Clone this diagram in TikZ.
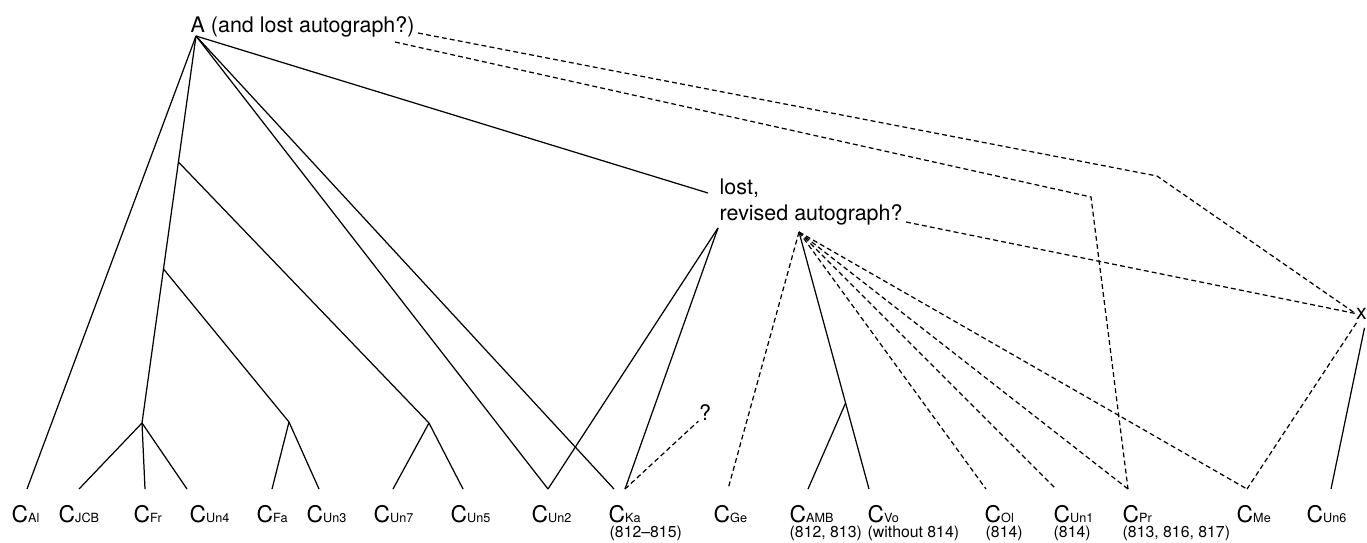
\documentclass[tikz,border=0pt]{standalone}
\usepackage{fontspec}
\setmainfont{TeX Gyre Heros}
\newcommand{\Cw}[1]{C{\fontsize{3.6}{4}\selectfont #1}}

\begin{document}
\begin{tikzpicture}[x=0.01cm, y=-0.01cm,
    hyp/.style={font=\fontsize{6.1}{7.4}\selectfont, inner sep=0pt},
    wit/.style={font=\fontsize{6.5}{7}\selectfont, anchor=base west, inner sep=0pt},
    rng/.style={font=\fontsize{4.5}{5}\selectfont, anchor=base west, inner sep=0pt},
    ln/.style={line width=0.35pt},
    dl/.style={line width=0.35pt, dash pattern=on 1.4pt off 0.9pt}]
  \useasboundingbox (0,0) rectangle (1367,542);
  \node[hyp, anchor=base west] (A) at (190,32) {A (and lost autograph?)};
  \node[hyp, anchor=north west, align=left] (rev) at (719,178.5) {lost,\\revised autograph?};
  \node[hyp] (x) at (1361.5,313.5) {x};
  \node[hyp] (q) at (705,412.5) {?};
  \foreach \n/\x/\s in {al/11/Al, jcb/58/JCB, fr/133/Fr, un4/189/Un4, fa/256/Fa, un3/306/Un3,
      un7/373/Un7, un5/450/Un5, un2/531/Un2, ka/608/Ka, ge/713/Ge, amb/789/AMB, vo/867/Vo,
      ol/984/Ol, un1/1053/Un1, pr/1122/Pr, me/1236/Me, un6/1306/Un6}
    \node[wit] (\n) at (\x,522) {\Cw{\s}};
  \node[rng] (n-ka)  at (609,537)  {(812–815)};
  \node[rng] (n-amb) at (789,537)  {(812, 813)};
  \node[rng] (n-vo)  at (867,537)  {(without 814)};
  \node[rng] (n-ol)  at (985,537)  {(814)};
  \node[rng] (n-un1) at (1053,537) {(814)};
  \node[rng] (n-pr)  at (1122,537) {(813, 816, 817)};
  % line ends above the witnesses
  \foreach \n/\x in {al/27, jcb/79, fr/145, un4/187, fa/272, un3/319, un7/393, un5/463, un2/548,
      ka/614, ka2/625, ge/728, amb/808, vo/869, ol/986, un1/1056, pr/1128, me/1247, un6/1331}
    \coordinate (t-\n) at (\x,489);
  \coordinate (root) at (196,36);
  \coordinate (j1) at (178.4,162); \coordinate (j2) at (163.5,269);
  \coordinate (jfr) at (142,423); \coordinate (jfa) at (289,422); \coordinate (jun7) at (429,423);
  \coordinate (lin) at (708,193); \coordinate (lout) at (718,228);
  \coordinate (hub) at (799,232); \coordinate (jamb) at (845.6,403);
  \coordinate (a1) at (418,33); \coordinate (a2) at (395,42); \coordinate (r1) at (906,222);
  \coordinate (b1) at (1157,176); \coordinate (b2) at (1091,197);
  % solid descent
  \draw[ln] (root) -- (t-al); \draw[ln] (root) -- (jfr);
  \draw[ln] (j1) -- (jun7); \draw[ln] (j2) -- (jfa);
  \foreach \t in {jcb,fr,un4} \draw[ln] (jfr) -- (t-\t);
  \draw[ln] (jfa) -- (t-fa); \draw[ln] (jfa) -- (t-un3);
  \draw[ln] (jun7) -- (t-un7); \draw[ln] (jun7) -- (t-un5);
  \draw[ln] (root) -- (t-un2); \draw[ln] (root) -- (t-ka); \draw[ln] (root) -- (lin);
  \draw[ln] (lout) -- (t-un2); \draw[ln] (lout) -- (t-ka2);
  \draw[ln] (hub) -- (t-vo); \draw[ln] (jamb) -- (t-amb);
  \draw[ln] ([shift={(3,8)}]x.south) -- (t-un6);
  % uncertain descent
  \draw[dl] (t-ka2) -- (q.south west);
  \foreach \t in {ge,ol,un1,pr,me} \draw[dl] (hub) -- (t-\t);
  \draw[dl] (a1) -- (b1) -- (x.west);
  \draw[dl] (a2) -- (b2) -- (t-pr);
  \draw[dl] (r1) -- (x.west);
  \draw[dl] ([shift={(1,3)}]x.south west) -- (t-me);
\end{tikzpicture}
\end{document}
